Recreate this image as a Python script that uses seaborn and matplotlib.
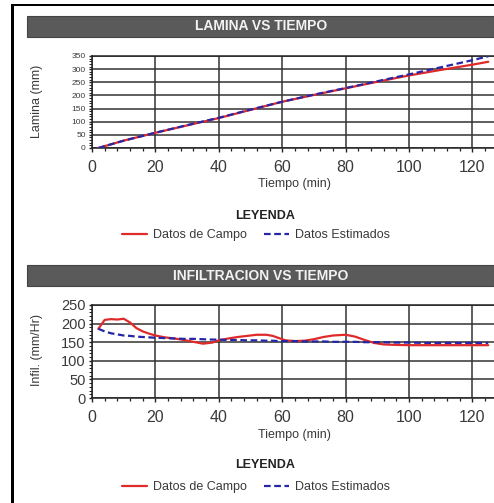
import matplotlib
matplotlib.use("Agg")
import matplotlib.pyplot as plt
from matplotlib.patches import Rectangle
from matplotlib.lines import Line2D
from matplotlib.ticker import MultipleLocator
import seaborn as sns
import pandas as pd

sns.set_style("white")
plt.rcParams['font.family'] = ['Liberation Sans', 'DejaVu Sans']

# ---------------- data ----------------
t_lam = [2, 10, 20, 30, 40, 50, 60, 70, 80, 90, 100, 110, 120, 125]
lam_campo = [0, 28, 58, 86, 114, 145, 176, 202, 227, 252, 276, 297, 317, 328]
lam_estim = [0, 28, 58, 87, 115, 146, 176, 203, 228, 254, 280, 307, 334, 349]

t_inf = [2, 4, 6, 8, 10, 12, 14, 16, 18, 20, 23, 26, 29, 32, 35, 38, 40, 43, 46,
         49, 52, 55, 57, 59, 61, 64, 67, 70, 73, 76, 80, 83, 86, 89, 92, 95, 100,
         105, 110, 115, 120, 125]
inf_campo = [186, 210, 212, 211, 213, 203, 188, 179, 173, 168, 163, 160, 156, 151,
             146, 149, 155, 160, 164, 167, 170, 170, 167, 161, 155, 153, 154, 158,
             164, 168, 170, 165, 156, 148, 144, 143, 142, 142, 142, 142, 142, 142]
inf_estim = [186, 179, 174, 171, 168, 167, 165, 164, 163, 162, 161, 160, 159, 159,
             158, 157, 157, 156, 156, 155, 155, 154, 154, 153, 153, 153, 152, 152,
             152, 151, 151, 151, 150, 150, 150, 149, 149, 148, 148, 148, 148, 148]

titles = ["LAMINA VS TIEMPO", "INFILTRACION VS TIEMPO"]
ylabels = ["Lamina (mm)", "Infil. (mm/Hr)"]
xlabel = "Tiempo (min)"
legend_title = "LEYENDA"
series_names = ["Datos de Campo", "Datos Estimados"]
x_ticks = [0, 20, 40, 60, 80, 100, 120]
y_ticks_lam = [0, 50, 100, 150, 200, 250, 300, 350]
y_ticks_inf = [0, 50, 100, 150, 200, 250]

RED = "#e02a2a"
BLUE = "#2626a6"
GRID = "#333333"
TXT = "#3a3a3a"

W, H = 494, 503
fig = plt.figure(figsize=(W / 100, H / 100), dpi=100)
fig.patch.set_facecolor("white")


def fx(px):
    return px / W


def fy(py):
    return 1 - py / H


# outer black frame (screenshot window border)
fig.patches.append(Rectangle((fx(11), 0), fx(3), fy(3.5), transform=fig.transFigure,
                             facecolor="black", edgecolor="none", zorder=5))
fig.patches.append(Rectangle((fx(11), fy(5.5)), 1, fy(3.5) - fy(5.5) + 0.0, transform=fig.transFigure,
                             facecolor="black", edgecolor="none", zorder=5))


def panel(top_bar, ax_top, ax_bot, ymax, yticks, ytick_fs, title, ylabel, tlist,
          campo, estim, ylab_y, leg_title_y, leg_y, xlab_y):
    # title bar
    fig.patches.append(Rectangle((fx(27), fy(top_bar + 21)), fx(W - 27), 21 / H,
                                 transform=fig.transFigure, facecolor="#5a5a5a",
                                 edgecolor="#444444", linewidth=0.8, zorder=1))
    fig.text(fx(261), fy(top_bar + 10.5), title, color="#f2f2f2", fontsize=10,
             fontweight="bold", ha="center", va="center")

    ax = fig.add_axes([fx(92), fy(ax_bot), fx(W - 92), (ax_bot - ax_top) / H])
    df = pd.DataFrame({"t": tlist, "campo": campo, "estim": estim})
    sns.lineplot(data=df, x="t", y="campo", ax=ax, color=RED, linewidth=1.6,
                 zorder=3)
    sns.lineplot(data=df, x="t", y="estim", ax=ax, color=BLUE, linewidth=1.6,
                 zorder=4)
    ax.lines[-1].set_linestyle((0, (3.0, 1.6)))

    ax.set_xlim(0, (W - 92) / 3.17)
    ax.set_ylim(0, ymax)
    ax.set_xticks(x_ticks)
    ax.set_yticks(yticks)
    ax.xaxis.set_minor_locator(MultipleLocator(4))
    ax.yaxis.set_minor_locator(MultipleLocator(10))
    ax.grid(True, which="major", color=GRID, linewidth=1.1)
    ax.set_axisbelow(True)
    for s in ["right"]:
        ax.spines[s].set_visible(False)
    for s in ["left", "bottom", "top"]:
        ax.spines[s].set_color("#222222")
        ax.spines[s].set_linewidth(1.1)
    ax.tick_params(axis="x", which="major", length=3, width=1, color="#222222",
                   pad=6, labelsize=11.5, labelcolor=TXT, direction="out", bottom=True)
    ax.tick_params(axis="x", which="minor", length=2.5, width=0.9, color="#222222",
                   direction="out", bottom=True)
    ax.tick_params(axis="y", which="major", length=2.5, width=1, color="#222222",
                   pad=2, labelsize=ytick_fs, labelcolor=TXT, direction="out", left=True)
    ax.tick_params(axis="y", which="minor", length=2.5, width=0.7, color="#222222",
                   direction="out", left=True)
    ax.set_xlabel("")
    ax.set_ylabel("")

    fig.text(fx(37), fy(ylab_y), ylabel, rotation=90, fontsize=9, color=TXT,
             ha="center", va="center")
    fig.text(fx(294), fy(xlab_y), xlabel, fontsize=9, color=TXT,
             ha="center", va="center")
    fig.text(fx(265), fy(leg_title_y), legend_title, fontsize=9, fontweight="bold",
             color="#222222", ha="center", va="center")
    handles = [Line2D([], [], color=RED, linewidth=1.6),
               Line2D([], [], color=BLUE, linewidth=1.6, linestyle=(0, (3.0, 1.6)))]
    fig.legend(handles, series_names, loc="center",
               bbox_to_anchor=(fx(256), fy(leg_y)), ncol=2, frameon=False,
               fontsize=9, handlelength=2.0, handletextpad=0.55,
               columnspacing=1.3, labelcolor=TXT, borderpad=0)
    return ax


panel(16, 56, 148, 350, y_ticks_lam, 6, titles[0], ylabels[0], t_lam,
      lam_campo, lam_estim, 101, 216, 235, 184)
panel(265, 305, 398, 250, y_ticks_inf, 10.5, titles[1], ylabels[1], t_inf,
      inf_campo, inf_estim, 350, 465, 487, 435)

fig.savefig("out.png", dpi=100)
